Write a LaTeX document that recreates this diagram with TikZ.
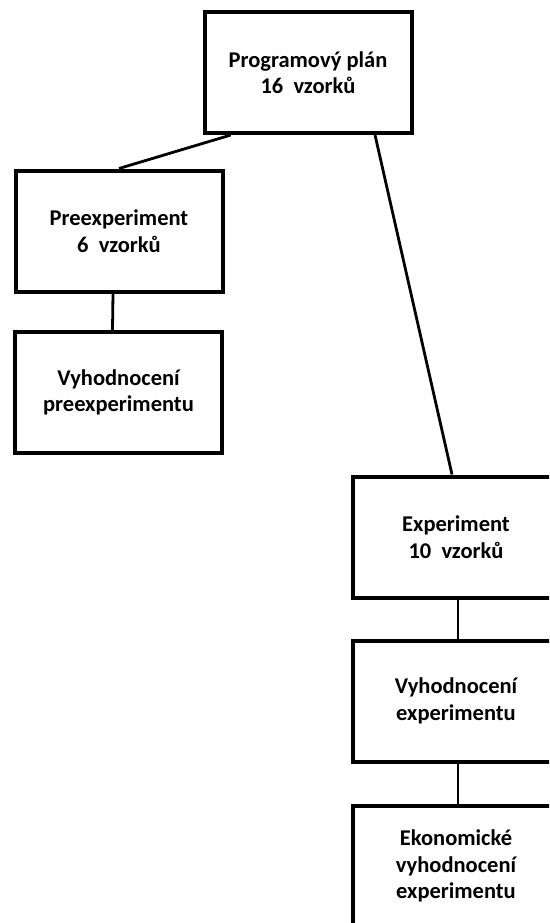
\documentclass[tikz,border=0pt]{standalone}
\usepackage{fontspec}
\setmainfont{Carlito}
\begin{document}
\begin{tikzpicture}[x=1pt,y=-1pt,
  box/.style={draw, line width=4pt, fill=white, minimum width=207pt, minimum height=121pt,
    align=center, inner sep=0pt, font=\fontsize{22.5}{26.5}\selectfont\bfseries},
  link/.style={line width=2.8pt}]
\useasboundingbox (0,0) rectangle (549,923);
\clip (0,0) rectangle (549,923);
\fill [white] (0,0) rectangle (549,923);

\node [box] (plan) at (308,72.5) {Programový plán\\16\ \ vzorků};
\node [box] (pre) at (119,231) {Preexperiment\\6\ \ vzorků};
\node [box] (vpre) at (118.5,392.5) {Vyhodnocení\\preexperimentu};

\node [box] (exp) at (456,537) {Experiment\\10\ \ vzorků};
\node [box] (vexp) at (456,701) {Vyhodnocení\\experimentu};
\node [box] (eko) at (456,866) {Ekonomické\\vyhodnocení\\experimentu};

\draw [link] (plan.219) -- (pre.north);
\draw [link] (plan.-43) -- ([xshift=-4pt]exp.north);
\draw [link] ([xshift=-6pt]pre.south) -- ([xshift=-6pt]vpre.north);
\draw [link] ([xshift=2pt]exp.south) -- ([xshift=2pt]vexp.north);
\draw [link] ([xshift=2pt]vexp.south) -- ([xshift=2pt]eko.north);
\end{tikzpicture}
\end{document}
